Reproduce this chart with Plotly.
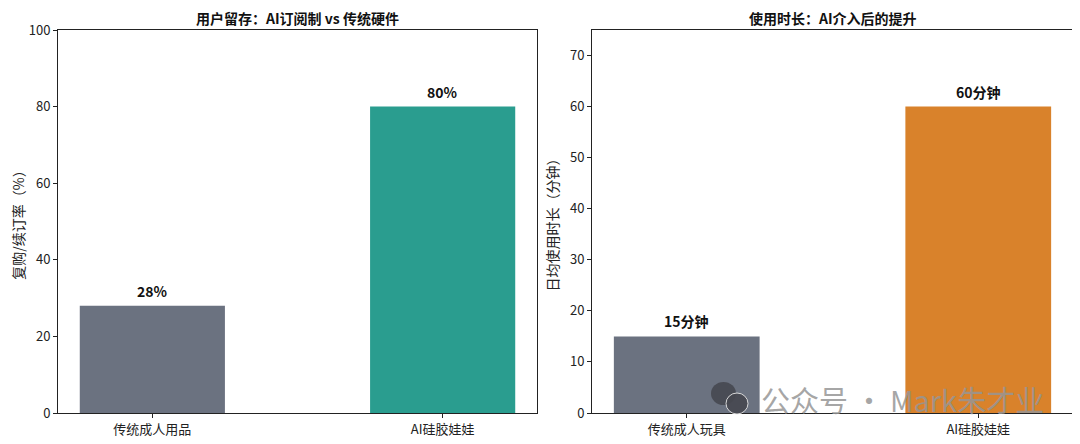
import plotly.graph_objects as go

# the page body adds an 8px margin, so the figure is drawn 8px smaller and
# all target-pixel positions are shifted by that offset
OFF = 8
W, H = 1080 - OFF, 444 - OFF
FONT = "Noto Sans CJK SC"

left_title = "用户留存：AI订阅制 vs 传统硬件"
left_categories = ["传统成人用品", "AI硅胶娃娃"]
left_values = [28, 80]
left_labels = ["28%", "80%"]
left_colors = ["#6b7280", "#2a9d8f"]
left_ytitle = "复购/续订率（%）"
left_ticks = [0, 20, 40, 60, 80, 100]

right_title = "使用时长：AI介入后的提升"
right_categories = ["传统成人玩具", "AI硅胶娃娃"]
right_values = [15, 60]
right_labels = ["15分钟", "60分钟"]
right_colors = ["#6b7280", "#d9822b"]
right_ytitle = "日均使用时长（分钟）"
right_ticks = [0, 10, 20, 30, 40, 50, 60, 70]


def px(x):
    return (x - OFF) / W


def py(y):
    return 1 - (y - OFF) / H


fig = go.Figure()

fig.add_trace(go.Bar(x=[0, 1], y=left_values, marker_color=left_colors, width=0.5,
                     marker_line_width=0, xaxis="x", yaxis="y", hoverinfo="skip"))
fig.add_trace(go.Bar(x=[0, 1], y=right_values, marker_color=right_colors, width=0.5,
                     marker_line_width=0, xaxis="x2", yaxis="y2", hoverinfo="skip"))

ydom = [py(413), py(30)]
axis_common = dict(showline=True, linecolor="#222", linewidth=1, mirror=True,
                   ticks="outside", ticklen=4, tickcolor="#222", showgrid=False,
                   zeroline=False, automargin=False,
                   tickfont=dict(family=FONT, size=13, color="#222"))
ytitle_font = dict(family=FONT, size=14, color="#222")

fig.update_layout(
    width=W, height=H, margin=dict(l=0, r=0, t=0, b=0, autoexpand=False),
    paper_bgcolor="white", plot_bgcolor="white", showlegend=False,
    font=dict(family=FONT, color="#222"),
    xaxis=dict(domain=[px(58), px(537)], range=[-0.325, 1.325], tickvals=[0, 1],
               ticktext=left_categories, anchor="y", **axis_common),
    yaxis=dict(domain=ydom, range=[0, 100], tickvals=left_ticks, anchor="x",
               title=dict(text=left_ytitle, font=ytitle_font, standoff=8),
               **axis_common),
    xaxis2=dict(domain=[px(592), px(1073)], range=[-0.325, 1.325], tickvals=[0, 1],
                ticktext=right_categories, anchor="y2", **axis_common),
    yaxis2=dict(domain=ydom, range=[0, 75], tickvals=right_ticks, anchor="x2",
                title=dict(text=right_ytitle, font=ytitle_font, standoff=8),
                **axis_common),
)

annotations = []
for i, (v, t) in enumerate(zip(left_values, left_labels)):
    annotations.append(dict(x=i, y=v, xref="x", yref="y", text=f"<b>{t}</b>", showarrow=False,
                            xanchor="center", yanchor="bottom", yshift=3,
                            font=dict(family=FONT, size=14, color="#111")))
for i, (v, t) in enumerate(zip(right_values, right_labels)):
    annotations.append(dict(x=i, y=v, xref="x2", yref="y2", text=f"<b>{t}</b>", showarrow=False,
                            xanchor="center", yanchor="bottom", yshift=3,
                            font=dict(family=FONT, size=14, color="#111")))

annotations.append(dict(x=px((58 + 537) / 2), y=py(18), xref="paper", yref="paper",
                        text=f"<b>{left_title}</b>", showarrow=False,
                        xanchor="center", yanchor="middle",
                        font=dict(family=FONT, size=14, color="#111")))
annotations.append(dict(x=px((592 + 1073) / 2), y=py(18), xref="paper", yref="paper",
                        text=f"<b>{right_title}</b>", showarrow=False,
                        xanchor="center", yanchor="middle",
                        font=dict(family=FONT, size=14, color="#111")))

# watermark text
annotations.append(dict(x=px(759), y=py(399), xref="paper", yref="paper",
                        text="公众号 · Mark朱才业", showarrow=False, xanchor="left", yanchor="middle",
                        font=dict(family=FONT, size=29, color="rgba(150,150,150,0.85)")))
fig.update_layout(annotations=annotations)

# watermark icon (decorative)
fig.add_shape(type="circle", xref="paper", yref="paper",
              x0=px(711), x1=px(736), y0=py(405), y1=py(382),
              fillcolor="rgba(70,72,80,0.9)", line_width=0, layer="above")
fig.add_shape(type="circle", xref="paper", yref="paper",
              x0=px(726), x1=px(748), y0=py(414), y1=py(393),
              fillcolor="rgba(70,72,80,0.92)", line=dict(color="rgba(230,230,230,0.9)", width=1),
              layer="above")

fig.write_html("out.html")
